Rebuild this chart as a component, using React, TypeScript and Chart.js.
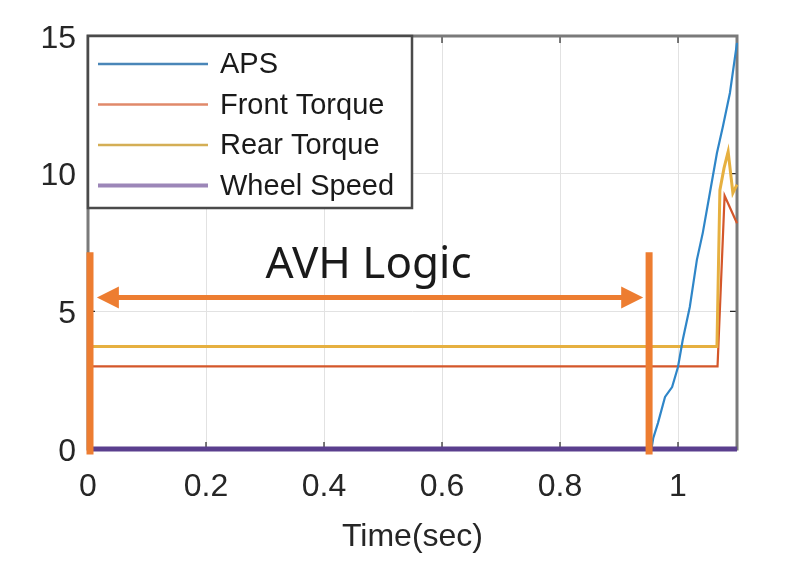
import React, { useEffect, useRef } from "react";
import { Chart, registerables } from "chart.js";
Chart.register(...registerables);

const xTicks = [0, 0.2, 0.4, 0.6, 0.8, 1];
const xTickLabels = ["0", "0.2", "0.4", "0.6", "0.8", "1"];
const yTicks = [0, 5, 10, 15];
const yTickLabels = ["0", "5", "10", "15"];

const seriesNames = ["APS", "Front Torque", "Rear Torque", "Wheel Speed"];
const seriesColors = ["#2F86C8", "#D4572A", "#E6B040", "#5A3F8E"];
const legendColors = ["#4A86B8", "#E0896A", "#D4AE55", "#9C86B8"];

const apsTime = [0, 0.955, 0.958, 0.966, 0.978, 0.99, 1.0, 1.008, 1.02, 1.032, 1.042, 1.054, 1.066, 1.076, 1.088, 1.1];
const apsValue = [0, 0, 0.39, 0.94, 1.89, 2.25, 2.98, 3.96, 5.16, 6.87, 7.85, 9.3, 10.75, 11.7, 12.93, 14.75];
const frontTime = [0, 1.067, 1.079, 1.1];
const frontValue = [3, 3, 9.2, 8.2];
const rearTime = [0, 1.066, 1.071, 1.078, 1.085, 1.093, 1.1];
const rearValue = [3.72, 3.72, 9.4, 10.2, 10.8, 9.3, 9.6];
const wheelTime = [0, 1.1];
const wheelValue = [0, 0];

const avhStart = 0;
const avhEnd = 0.951;
const avhBarTop = 7.15;
const avhBarBottom = -0.2;
const arrowStart = 0.015;
const arrowEnd = 0.941;
const arrowY = 5.5;
const avhLabel = "AVH Logic";
const avhLabelY = 6.68;
const xTitle = "Time(sec)";

const toPoints = (t: number[], v: number[]) => t.map((x, i) => ({ x, y: v[i] }));

const TICK_FONT = "'Liberation Sans', Arial, sans-serif";

const boxPlugin = {
  id: "matlabBox",
  beforeDatasetsDraw(chart: any) {
    const { ctx, chartArea: a, scales } = chart;
    ctx.save();
    ctx.strokeStyle = "#262626";
    ctx.lineWidth = 1.2;
    const tl = 7;
    xTicks.forEach((v) => {
      const px = scales.x.getPixelForValue(v);
      ctx.beginPath();
      ctx.moveTo(px, a.bottom);
      ctx.lineTo(px, a.bottom - tl);
      ctx.moveTo(px, a.top);
      ctx.lineTo(px, a.top + tl);
      ctx.stroke();
    });
    yTicks.forEach((v) => {
      const py = scales.y.getPixelForValue(v);
      ctx.beginPath();
      ctx.moveTo(a.left, py);
      ctx.lineTo(a.left + tl, py);
      ctx.moveTo(a.right, py);
      ctx.lineTo(a.right - tl, py);
      ctx.stroke();
    });
    ctx.strokeStyle = "#7a7a7a";
    ctx.lineWidth = 3;
    ctx.strokeRect(a.left, a.top, a.right - a.left, a.bottom - a.top);
    ctx.restore();
  },
  afterDatasetsDraw(chart: any) {
    const { ctx, scales } = chart;
    const xs = scales.x;
    const ys = scales.y;
    const orange = "#ED7D31";
    ctx.save();
    ctx.strokeStyle = orange;
    ctx.lineWidth = 7;
    [avhStart, avhEnd].forEach((t) => {
      const px = xs.getPixelForValue(t) + (t === avhStart ? 2 : 0);
      ctx.beginPath();
      ctx.moveTo(px, ys.getPixelForValue(avhBarTop));
      ctx.lineTo(px, ys.getPixelForValue(avhBarBottom));
      ctx.stroke();
    });
    const y = ys.getPixelForValue(arrowY);
    const x1 = xs.getPixelForValue(arrowStart);
    const x2 = xs.getPixelForValue(arrowEnd);
    const hl = 22;
    const hw = 11;
    ctx.lineWidth = 5;
    ctx.beginPath();
    ctx.moveTo(x1 + hl - 2, y);
    ctx.lineTo(x2 - hl + 2, y);
    ctx.stroke();
    ctx.fillStyle = orange;
    ctx.beginPath();
    ctx.moveTo(x1, y);
    ctx.lineTo(x1 + hl, y - hw);
    ctx.lineTo(x1 + hl, y + hw);
    ctx.closePath();
    ctx.fill();
    ctx.beginPath();
    ctx.moveTo(x2, y);
    ctx.lineTo(x2 - hl, y - hw);
    ctx.lineTo(x2 - hl, y + hw);
    ctx.closePath();
    ctx.fill();
    ctx.fillStyle = "#1a1a1a";
    ctx.font = "44px 'Noto Sans', 'Open Sans', sans-serif";
    ctx.textAlign = "center";
    ctx.textBaseline = "middle";
    ctx.fillText(avhLabel, xs.getPixelForValue((avhStart + avhEnd) / 2), ys.getPixelForValue(avhLabelY));
    ctx.restore();
  },
  afterDraw(chart: any) {
    const { ctx, chartArea: a } = chart;
    ctx.save();
    const bx = a.left;
    const by = a.top;
    const bw = 324;
    const bh = 172;
    ctx.fillStyle = "#ffffff";
    ctx.fillRect(bx, by, bw, bh);
    ctx.strokeStyle = "#4a4a4a";
    ctx.lineWidth = 2.5;
    ctx.strokeRect(bx, by, bw, bh);
    ctx.font = "29px " + TICK_FONT;
    ctx.textAlign = "left";
    ctx.textBaseline = "middle";
    seriesNames.forEach((name, i) => {
      const ry = by + 28 + i * 40.5;
      ctx.strokeStyle = legendColors[i];
      ctx.lineWidth = i === 3 ? 4 : 2.5;
      ctx.beginPath();
      ctx.moveTo(bx + 10, ry);
      ctx.lineTo(bx + 120, ry);
      ctx.stroke();
      ctx.fillStyle = "#1a1a1a";
      ctx.fillText(name, bx + 132, ry + 1);
    });
    ctx.restore();
  },
};

export default function App() {
  const ref = useRef<HTMLCanvasElement>(null);
  useEffect(() => {
    if (!ref.current) return;
    const common = { pointRadius: 0, showLine: true, tension: 0, clip: false as any };
    const chart = new Chart(ref.current, {
      type: "scatter",
      data: {
        datasets: [
          { ...common, label: seriesNames[0], data: toPoints(apsTime, apsValue), borderColor: seriesColors[0], borderWidth: 2.2, order: 1 },
          { ...common, label: seriesNames[1], data: toPoints(frontTime, frontValue), borderColor: seriesColors[1], borderWidth: 2.2, order: 3 },
          { ...common, label: seriesNames[2], data: toPoints(rearTime, rearValue), borderColor: seriesColors[2], borderWidth: 3, order: 2 },
          { ...common, label: seriesNames[3], data: toPoints(wheelTime, wheelValue), borderColor: seriesColors[3], borderWidth: 5, order: 0 },
        ],
      },
      options: {
        animation: false,
        responsive: false,
        layout: { padding: { top: 36, right: 63, left: 0, bottom: 0 } },
        plugins: { legend: { display: false }, tooltip: { enabled: false } },
        scales: {
          x: {
            type: "linear",
            min: 0,
            max: 1.1,
            afterBuildTicks: (s: any) => {
              s.ticks = xTicks.map((v) => ({ value: v }));
            },
            afterFit: (s: any) => {
              s.height = 127;
            },
            ticks: {
              autoSkip: false,
              maxRotation: 0,
              padding: 19,
              color: "#262626",
              font: { family: TICK_FONT, size: 32 },
              callback: (_v: any, i: number) => xTickLabels[i],
            },
            grid: { color: "#e2e2e2", lineWidth: 1, drawTicks: false },
            border: { display: false },
            title: {
              display: true,
              text: xTitle,
              color: "#262626",
              font: { family: TICK_FONT, size: 32 },
              padding: { top: 0, bottom: 20 },
            },
          },
          y: {
            type: "linear",
            min: 0,
            max: 15,
            afterBuildTicks: (s: any) => {
              s.ticks = yTicks.map((v) => ({ value: v }));
            },
            afterFit: (s: any) => {
              s.width = 88;
            },
            ticks: {
              autoSkip: false,
              padding: 12,
              labelOffset: 3,
              color: "#262626",
              font: { family: TICK_FONT, size: 32 },
              callback: (_v: any, i: number) => yTickLabels[i],
            },
            grid: { color: "#e2e2e2", lineWidth: 1, drawTicks: false },
            border: { display: false },
          },
        },
      },
      plugins: [boxPlugin],
    });
    return () => chart.destroy();
  }, []);
  return (
    <div style={{ position: "absolute", left: 0, top: 0, width: 800, height: 576, background: "#fff" }}>
      <canvas ref={ref} width={800} height={576} style={{ display: "block" }} />
    </div>
  );
}
